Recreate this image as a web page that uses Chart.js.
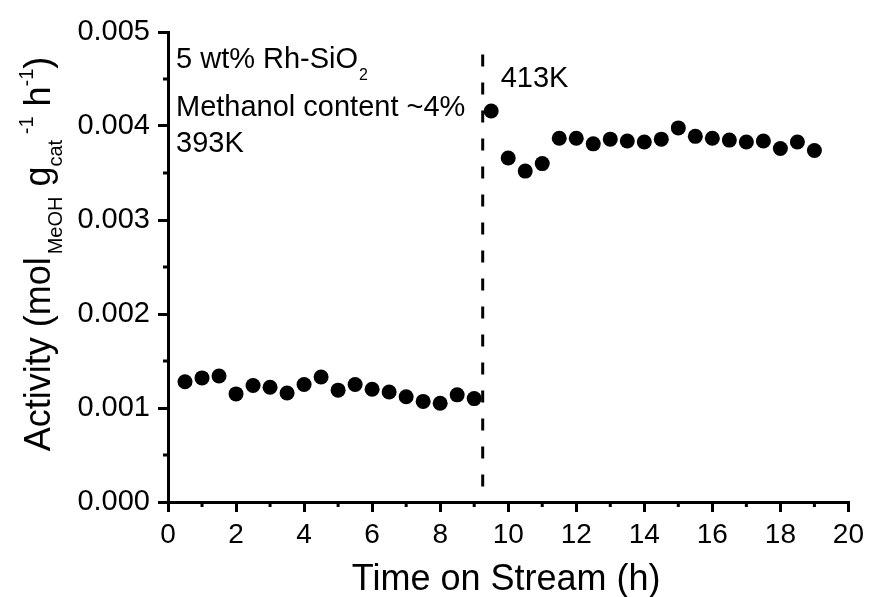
<!DOCTYPE html>
<html lang="en">
<head>
  <meta charset="UTF-8">
  <title>Activity vs Time on Stream</title>
  <style>
    body { margin: 0; background: #ffffff; }
    #wrap { width: 870px; height: 597px; }
  </style>
</head>
<body>
  <div id="wrap"><canvas id="chart" width="870" height="597"></canvas></div>

  <script src="https://cdn.jsdelivr.net/npm/chart.js@4.4.3/dist/chart.umd.min.js"></script>
  <script>
    // 393K segment
    const timeLow = [0.5, 1, 1.5, 2, 2.5, 3, 3.5, 4, 4.5, 5, 5.5, 6, 6.5, 7, 7.5, 8, 8.5, 9];
    const activityLow = [0.00128, 0.00132, 0.00134, 0.00115, 0.00124, 0.00122, 0.00116, 0.00125, 0.00133,
                         0.00119, 0.00125, 0.00120, 0.00117, 0.00112, 0.00107, 0.00105, 0.00114, 0.00110];
    // 413K segment
    const timeHigh = [9.5, 10, 10.5, 11, 11.5, 12, 12.5, 13, 13.5, 14, 14.5, 15, 15.5, 16, 16.5, 17, 17.5, 18, 18.5, 19];
    const activityHigh = [0.00416, 0.00366, 0.00352, 0.00360, 0.00387, 0.00387, 0.00381, 0.00386, 0.00384, 0.00383,
                          0.00386, 0.00398, 0.00389, 0.00387, 0.00385, 0.00383, 0.00384, 0.00376, 0.00383, 0.00374];
    // temperature switch marker
    const switchTime = [9.25, 9.25];
    const switchRange = [0.00476, 0.00015];
    // axes
    const xTickValues = [0, 2, 4, 6, 8, 10, 12, 14, 16, 18, 20];
    const yTickValues = [0, 0.001, 0.002, 0.003, 0.004, 0.005];

    const FONT = "'Liberation Sans', Arial, sans-serif";

    const toPoints = (xs, ys) => xs.map((x, i) => ({ x: x, y: ys[i] }));

    // minor ticks, axis titles and notes (rich text with sub/superscripts)
    const extras = {
      id: 'extras',
      afterDraw(chart) {
        const ctx = chart.ctx;
        const xs = chart.scales.x, ys = chart.scales.y;
        const area = chart.chartArea;
        ctx.save();
        ctx.strokeStyle = '#000';
        ctx.lineWidth = 3;
        for (let i = 0; i < xTickValues.length - 1; i++) {
          const px = xs.getPixelForValue((xTickValues[i] + xTickValues[i + 1]) / 2);
          ctx.beginPath(); ctx.moveTo(px, area.bottom); ctx.lineTo(px, area.bottom + 5); ctx.stroke();
        }
        for (let i = 0; i < yTickValues.length - 1; i++) {
          const py = ys.getPixelForValue((yTickValues[i] + yTickValues[i + 1]) / 2);
          ctx.beginPath(); ctx.moveTo(area.left, py); ctx.lineTo(area.left - 5, py); ctx.stroke();
        }

        ctx.fillStyle = '#000';
        ctx.textBaseline = 'alphabetic';

        // x title
        ctx.font = '36px ' + FONT;
        ctx.textAlign = 'center';
        ctx.fillText('Time on Stream (h)', (area.left + area.right) / 2 - 2, area.bottom + 88);

        // y title, rotated
        const runs = [
          { t: 'Activity (mol', s: 36, dy: 0, gap: 3 },
          { t: 'MeOH', s: 20, dy: 12, gap: 0 },
          { t: ' g', s: 36, dy: 0, gap: 0 },
          { t: 'cat', s: 20, dy: 12, gap: 0 },
          { t: ' -1', s: 20, dy: -17, gap: 0 },
          { t: ' h', s: 36, dy: 0, gap: 0 },
          { t: '-1', s: 20, dy: -17, gap: 0 },
          { t: ')', s: 36, dy: 0, gap: 0 }
        ];
        let total = 0;
        runs.forEach(r => { ctx.font = r.s + 'px ' + FONT; r.w = ctx.measureText(r.t).width + r.gap; total += r.w; });
        ctx.save();
        ctx.translate(50, 254);
        ctx.rotate(-Math.PI / 2);
        ctx.textAlign = 'left';
        let cx = -total / 2;
        runs.forEach(r => {
          ctx.font = r.s + 'px ' + FONT;
          ctx.fillText(r.t, cx, r.dy);
          cx += r.w;
        });
        ctx.restore();

        // notes
        ctx.textAlign = 'left';
        const nx = area.left + 8;
        ctx.font = '29px ' + FONT;
        ctx.fillText('5 wt% Rh-SiO', nx, 68);
        const w1 = ctx.measureText('5 wt% Rh-SiO').width;
        ctx.font = '16px ' + FONT;
        ctx.fillText('2', nx + w1 + 1, 80);
        ctx.font = '29px ' + FONT;
        ctx.fillText('Methanol content ~4%', nx, 116);
        ctx.fillText('393K', nx, 152);
        ctx.fillText('413K', xs.getPixelForValue(switchTime[0]) + 18, 87);
        ctx.restore();
      }
    };

    new Chart(document.getElementById('chart'), {
      type: 'scatter',
      data: {
        datasets: [
          {
            label: 'switch',
            type: 'line',
            data: toPoints(switchTime, switchRange),
            borderColor: '#000',
            borderWidth: 3,
            borderDash: [12, 16],
            pointRadius: 0,
            fill: false
          },
          {
            label: '393K',
            data: toPoints(timeLow, activityLow),
            backgroundColor: '#000',
            borderWidth: 0,
            pointRadius: 7.5
          },
          {
            label: '413K',
            data: toPoints(timeHigh, activityHigh),
            backgroundColor: '#000',
            borderWidth: 0,
            pointRadius: 7.5
          }
        ]
      },
      options: {
        responsive: false,
        animation: false,
        layout: { padding: { top: 32, right: 21, left: 0, bottom: 0 } },
        plugins: {
          legend: { display: false },
          tooltip: { enabled: false }
        },
        scales: {
          x: {
            type: 'linear',
            min: 0,
            max: 20,
            afterFit: (s) => { s.height = 95; },
            afterBuildTicks: (s) => { s.ticks = xTickValues.map(v => ({ value: v })); },
            border: { color: '#000', width: 3 },
            grid: { drawOnChartArea: false, drawTicks: true, tickLength: 10, color: '#000', lineWidth: 3 },
            ticks: {
              color: '#000',
              padding: 6,
              maxRotation: 0,
              font: { family: FONT, size: 28 },
              callback: (v) => String(v)
            }
          },
          y: {
            type: 'linear',
            min: 0,
            max: 0.005,
            afterFit: (s) => { s.width = 168; },
            afterBuildTicks: (s) => { s.ticks = yTickValues.map(v => ({ value: v })); },
            border: { color: '#000', width: 3 },
            grid: { drawOnChartArea: false, drawTicks: true, tickLength: 10, color: '#000', lineWidth: 3 },
            ticks: {
              color: '#000',
              padding: 8,
              font: { family: FONT, size: 29 },
              callback: (v) => Number(v).toFixed(3)
            }
          }
        }
      },
      plugins: [extras]
    });
  </script>
</body>
</html>
